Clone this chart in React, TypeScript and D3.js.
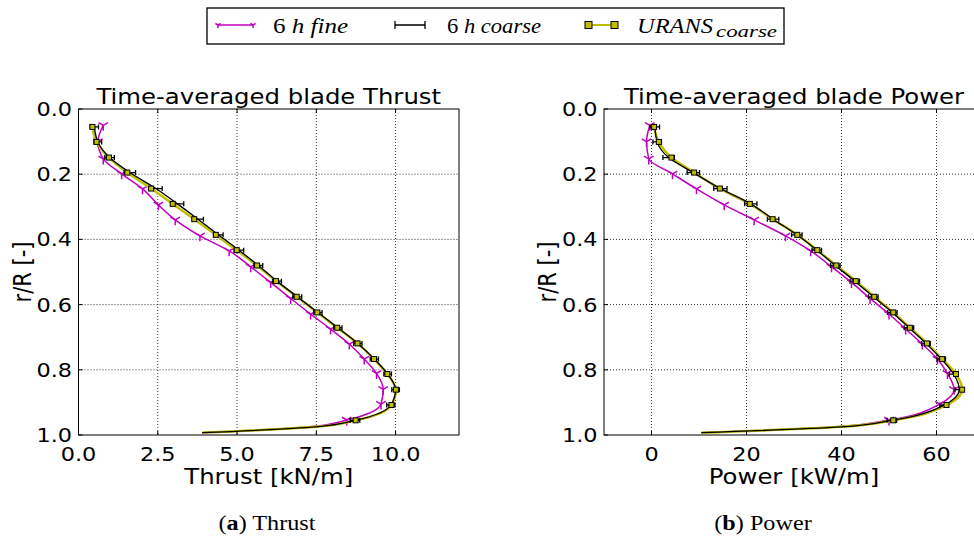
import * as d3 from "d3";

// radial stations (r/R) of the markers
const rCoarse = [0.055, 0.101, 0.149, 0.195, 0.244, 0.291, 0.338, 0.386, 0.433, 0.48, 0.528, 0.576, 0.624, 0.671, 0.719, 0.767, 0.813, 0.861, 0.908, 0.955];
const rFine = [0.05, 0.1, 0.153, 0.199, 0.245, 0.294, 0.34, 0.389, 0.435, 0.484, 0.532, 0.581, 0.629, 0.675, 0.721, 0.767, 0.811, 0.86, 0.905, 0.954];
const rTail = [0.975, 0.993];

// thrust [kN/m]
const thrustFine = [0.78, 0.61, 0.78, 1.36, 2.02, 2.52, 3.05, 3.83, 4.75, 5.43, 6.06, 6.69, 7.32, 7.95, 8.54, 9.01, 9.4, 9.61, 9.54, 8.46];
const thrustFineTail = [7.3, 3.9];
const thrustCoarse = [0.5, 0.61, 0.98, 1.62, 2.44, 3.12, 3.77, 4.41, 5.06, 5.67, 6.26, 6.9, 7.55, 8.18, 8.81, 9.33, 9.75, 10.0, 9.85, 8.72];
const thrustCoarseErr = [0.13, 0.12, 0.15, 0.18, 0.2, 0.2, 0.17, 0.15, 0.15, 0.14, 0.14, 0.14, 0.13, 0.13, 0.13, 0.13, 0.12, 0.12, 0.13, 0.15];
const thrustUrans = [0.44, 0.57, 0.96, 1.54, 2.29, 2.97, 3.65, 4.33, 4.99, 5.63, 6.23, 6.88, 7.53, 8.16, 8.8, 9.32, 9.74, 10.01, 9.87, 8.74];
const thrustCoarseTail = [7.5, 3.9];

// power [kW/m]
const powerFine = [-0.36, -1.05, -0.57, 4.42, 9.47, 15.3, 21.6, 28.2, 33.5, 37.9, 42.1, 46.0, 50.0, 53.5, 57.0, 60.2, 62.3, 63.7, 60.7, 50.0];
const powerFineTail = [39, 10.5];
const powerCoarse = [0.7, 1.2, 3.6, 8.8, 14.5, 20.9, 25.6, 30.6, 34.8, 38.7, 42.8, 46.7, 50.7, 54.2, 57.8, 61.0, 63.6, 64.8, 61.6, 50.6];
const powerCoarseErr = [1.0, 0.9, 1.2, 1.3, 1.4, 1.3, 1.2, 1.1, 1.0, 1.0, 1.0, 1.0, 1.0, 1.0, 0.9, 0.9, 0.9, 0.9, 0.9, 1.0];
const powerUrans = [0.55, 1.54, 4.2, 8.97, 14.4, 20.7, 25.5, 30.7, 34.9, 38.9, 43.0, 46.9, 50.9, 54.4, 58.0, 61.2, 64.1, 65.4, 62.1, 50.9];
const powerCoarseTail = [40, 10.5];

const rTicks = [0, 0.2, 0.4, 0.6, 0.8, 1.0];
const thrustTicks = [0, 2.5, 5, 7.5, 10];
const powerTicks = [0, 20, 40, 60];

const MAG = "#c000c0";
const YEL = "#bfbf00";
const SANS = "DejaVu Sans";
const SX = 1.16; // the figure is a bit stretched horizontally

const panels = [
  {
    title: "Time-averaged blade Thrust", xLabel: "Thrust [kN/m]", caption: ["a", " Thrust"],
    domain: [0, 12], range: [78.5, 459], ticks: thrustTicks, fmt: (d: number) => d.toFixed(1),
    fine: thrustFine, fineTail: thrustFineTail, coarse: thrustCoarse, err: thrustCoarseErr,
    urans: thrustUrans, coarseTail: thrustCoarseTail, yLabelX: 31, capX: 267,
  },
  {
    title: "Time-averaged blade Power", xLabel: "Power [kW/m]", caption: ["b", " Power"],
    domain: [-10, 70], range: [604, 984], ticks: powerTicks, fmt: (d: number) => String(d),
    fine: powerFine, fineTail: powerFineTail, coarse: powerCoarse, err: powerCoarseErr,
    urans: powerUrans, coarseTail: powerCoarseTail, yLabelX: 556, capX: 763,
  },
];

const y = d3.scaleLinear().domain([0, 1]).range([109, 435]);

function Txt(p: any) {
  const { x, yy, size, anchor = "middle", sx = SX, family = SANS, children, rotate } = p;
  const tr = rotate
    ? `translate(${x},${yy}) rotate(-90) scale(1,${sx})`
    : `translate(${x},${yy}) scale(${sx},1)`;
  return (
    <text transform={tr} fontSize={size} fontFamily={family} textAnchor={anchor} fill="#000">
      {children}
    </text>
  );
}

function TriDown({ x, yy, s = 5.5 }: any) {
  const a = s * 0.866, b = s * 0.5;
  return (
    <path d={`M${x},${yy}L${x},${yy + s}M${x},${yy}L${x - a},${yy - b}M${x},${yy}L${x + a},${yy - b}`}
      stroke={MAG} strokeWidth={1.5} fill="none" />
  );
}

function Panel({ p }: any) {
  const x = d3.scaleLinear().domain(p.domain).range(p.range);
  const [x0, x1] = p.range;
  const [y0, y1] = [y(0), y(1)];
  const line = d3.line<[number, number]>().x(d => x(d[0])).y(d => y(d[1])).curve(d3.curveMonotoneY);
  const finePts: [number, number][] = p.fine.map((v: number, i: number) => [v, rFine[i]]);
  const fineLine = finePts.concat(p.fineTail.map((v: number, i: number) => [v, rTail[i]]));
  const coarseLine: [number, number][] = p.coarse.map((v: number, i: number) => [v, rCoarse[i]])
    .concat(p.coarseTail.map((v: number, i: number) => [v, rTail[i]]));
  const uransLine: [number, number][] = p.urans.map((v: number, i: number) => [v, rCoarse[i]])
    .concat(p.coarseTail.map((v: number, i: number) => [v, rTail[i]]));
  const cx = (x0 + x1) / 2;
  const clipId = "clip" + p.caption[0];
  return (
    <g>
      <defs>
        <clipPath id={clipId}>
          <rect x={x0} y={y0 - 10} width={x1 - x0} height={y1 - y0 + 10} />
        </clipPath>
      </defs>
      {/* grid */}
      {p.ticks.map((t: number) => (
        <line key={"gx" + t} x1={x(t)} x2={x(t)} y1={y0} y2={y1} stroke="#000" strokeWidth={0.8} strokeDasharray="1,2" />
      ))}
      {rTicks.slice(1, -1).map(t => (
        <line key={"gy" + t} x1={x0} x2={x1} y1={y(t)} y2={y(t)} stroke="#000" strokeWidth={0.8} strokeDasharray="1,2" />
      ))}
      {/* series */}
      <g clipPath={`url(#${clipId})`}>
        <path d={line(fineLine) || ""} fill="none" stroke={MAG} strokeWidth={1.5} />
        {finePts.map((d, i) => <TriDown key={"f" + i} x={x(d[0])} yy={y(d[1])} />)}
        <path d={line(uransLine) || ""} fill="none" stroke={YEL} strokeWidth={2.5} />
        <path d={line(coarseLine) || ""} fill="none" stroke="#000" strokeWidth={1.3} />
        {p.coarse.map((v: number, i: number) => {
          const yy = y(rCoarse[i]);
          const a = x(v - p.err[i]), b = x(v + p.err[i]);
          return (
            <path key={"e" + i} d={`M${a},${yy}L${b},${yy}M${a},${yy - 2.5}L${a},${yy + 2.5}M${b},${yy - 2.5}L${b},${yy + 2.5}`}
              stroke="#000" strokeWidth={1.3} fill="none" />
          );
        })}
        {p.urans.map((v: number, i: number) => (
          <rect key={"u" + i} x={x(v) - 2.5} y={y(rCoarse[i]) - 2.5} width={5} height={5} fill={YEL} stroke="#000" strokeWidth={1} />
        ))}
      </g>
      {/* frame + ticks */}
      <rect x={x0} y={y0} width={x1 - x0} height={y1 - y0} fill="none" stroke="#000" strokeWidth={1} />
      {p.ticks.map((t: number) => (
        <g key={"tx" + t}>
          <line x1={x(t)} x2={x(t)} y1={y1} y2={y1 - 4} stroke="#000" />
          <line x1={x(t)} x2={x(t)} y1={y0} y2={y0 + 4} stroke="#000" />
          <Txt x={x(t)} yy={460.5} size={19.3}>{p.fmt(t)}</Txt>
        </g>
      ))}
      {rTicks.map(t => (
        <g key={"ty" + t}>
          <line x1={x0} x2={x0 + 4} y1={y(t)} y2={y(t)} stroke="#000" />
          <Txt x={x0 - 6.5} yy={y(t) + 7} size={19.3} anchor="end">{t.toFixed(1)}</Txt>
        </g>
      ))}
      <Txt x={cx} yy={104} size={21}>{p.title}</Txt>
      <Txt x={cx} yy={483.5} size={21}>{p.xLabel}</Txt>
      <Txt x={p.yLabelX} yy={(y0 + y1) / 2} size={21} rotate>r/R [-]</Txt>
      <Txt x={p.capX} yy={530} size={22} sx={1.1} family="Liberation Serif">
        (<tspan fontWeight="bold">{p.caption[0]}</tspan>){p.caption[1]}
      </Txt>
    </g>
  );
}

function Legend() {
  const ly = 25;
  const serif = "Liberation Serif";
  return (
    <g>
      <rect x={207} y={8} width={577} height={36} fill="#fff" stroke="#000" strokeWidth={1.3} />
      <line x1={218} x2={253} y1={ly} y2={ly} stroke={MAG} strokeWidth={1.5} />
      <TriDown x={218} yy={ly} s={3} />
      <TriDown x={253} yy={ly} s={3} />
      <text x={273} y={32.5} fontFamily={serif} fontSize={21} textLength={75} lengthAdjust="spacingAndGlyphs">
        6 <tspan fontStyle="italic">h fine</tspan>
      </text>
      <path d={`M395,${ly}L425,${ly}M395,${ly - 4}L395,${ly + 4}M425,${ly - 4}L425,${ly + 4}`} stroke="#000" strokeWidth={1.3} />
      <text x={447} y={32.5} fontFamily={serif} fontSize={21} textLength={94} lengthAdjust="spacingAndGlyphs">
        6 <tspan fontStyle="italic">h coarse</tspan>
      </text>
      <line x1={588} x2={615} y1={ly} y2={ly} stroke={YEL} strokeWidth={2} />
      <rect x={585} y={ly - 3.5} width={7} height={7} fill={YEL} stroke="#000" />
      <rect x={611} y={ly - 3.5} width={7} height={7} fill={YEL} stroke="#000" />
      <text x={637} y={32.5} fontFamily={serif} fontSize={21} fontStyle="italic" textLength={76} lengthAdjust="spacingAndGlyphs">URANS</text>
      <text x={716} y={37} fontFamily={serif} fontSize={17} fontStyle="italic" textLength={61} lengthAdjust="spacingAndGlyphs">coarse</text>
    </g>
  );
}

export default function App() {
  return (
    <svg width={974} height={538} style={{ position: "absolute", left: 0, top: 0, background: "#fff" }}>
      <rect width={974} height={538} fill="#fff" />
      {panels.map(p => <Panel key={p.xLabel} p={p} />)}
      <Legend />
    </svg>
  );
}
